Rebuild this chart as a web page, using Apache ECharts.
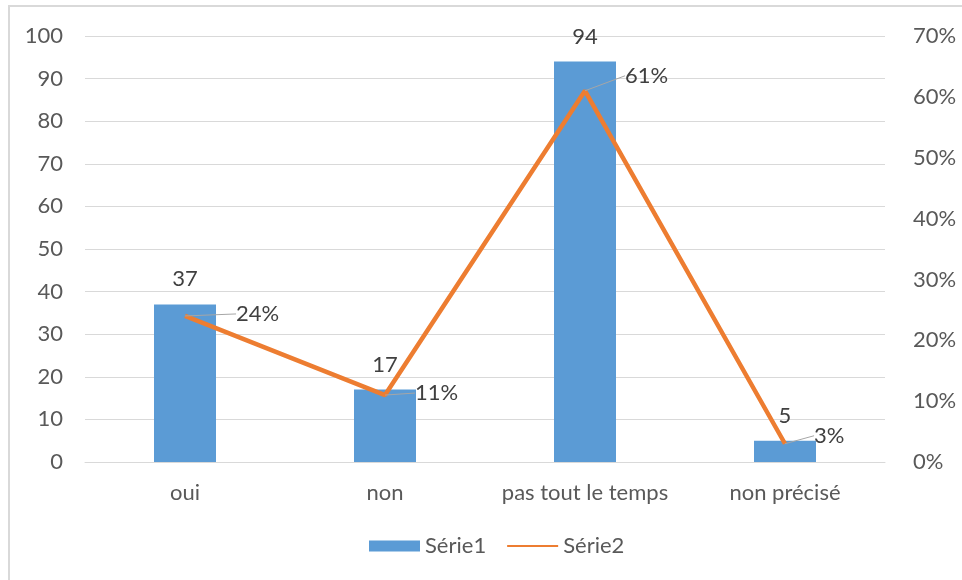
<!DOCTYPE html>
<html><head><meta charset="utf-8">
<script src="https://cdn.jsdelivr.net/npm/echarts@6/dist/echarts.min.js"></script>
<style>html,body{margin:0;padding:0;background:#fff}#c{width:962px;height:580px}</style>
</head><body><div id="c"></div>
<script>
const categories = ['oui', 'non', 'pas tout le temps', 'non précisé'];
const serie1 = [37, 17, 94, 5];
const serie2 = [0.24, 0.11, 0.61, 0.03];
const leftTicks = {min: 0, max: 100, interval: 10};
const rightTicks = {min: 0, max: 0.7, interval: 0.1};

const txt = '#595959';
const font = 'Lato, "Open Sans", sans-serif';
const fs = 22;
// label offsets (pixels) for the percentage labels, per point
const lineLabelShift = [[47, -2], [26, -2], [36, -15], [25, -8]];
const chart = echarts.init(document.getElementById('c'), null, {renderer: 'canvas'});
chart.setOption({
  animation: false,
  textStyle: {fontFamily: font},
  graphic: [{type: 'rect', shape: {x: 9, y: 6, width: 980, height: 600}, style: {fill: 'none', stroke: '#d9d9d9', lineWidth: 2}, silent: true}],
  grid: {left: 85, right: 77, top: 36, bottom: 118},
  legend: {
    bottom: 18, left: 364, itemGap: 20, itemWidth: 51, itemHeight: 11,
    textStyle: {color: txt, fontSize: fs, fontFamily: font},
    data: [{name: 'Série1', icon: 'rect'}, {name: 'Série2', itemStyle: {opacity: 0}}]
  },
  xAxis: {
    type: 'category', data: categories,
    axisLine: {lineStyle: {color: '#d9d9d9', width: 1}},
    axisTick: {show: false},
    axisLabel: {color: txt, fontSize: fs, margin: 20, interval: 0}
  },
  yAxis: [
    {type: 'value', min: leftTicks.min, max: leftTicks.max, interval: leftTicks.interval,
     axisLabel: {color: txt, fontSize: fs, margin: 22}, axisLine: {show: false}, axisTick: {show: false},
     splitLine: {lineStyle: {color: '#d9d9d9'}}},
    {type: 'value', min: rightTicks.min, max: rightTicks.max, interval: rightTicks.interval,
     axisLabel: {color: txt, fontSize: fs, margin: 28, formatter: v => Math.round(v * 100) + '%'},
     axisLine: {show: false}, axisTick: {show: false}, splitLine: {show: false}}
  ],
  series: [
    {name: 'Série1', type: 'bar', data: serie1, barWidth: 62, yAxisIndex: 0,
     itemStyle: {color: '#5B9BD5'},
     label: {show: true, position: 'top', distance: 14, color: '#404040', fontSize: fs}},
    {name: 'Série2', type: 'line', data: serie2, yAxisIndex: 1, symbol: 'circle', symbolSize: 0.1,
     lineStyle: {color: '#ED7D31', width: 4.5}, itemStyle: {color: '#ED7D31'},
     label: {show: true, position: 'right', distance: 4, color: '#404040', fontSize: fs,
       formatter: p => Math.round(p.value * 100) + '%'},
     labelLayout: p => ({dx: lineLabelShift[p.dataIndex][0], dy: lineLabelShift[p.dataIndex][1]}),
     labelLine: {show: true, lineStyle: {color: '#a6a6a6', width: 1}}}
  ]
});
</script></body></html>
